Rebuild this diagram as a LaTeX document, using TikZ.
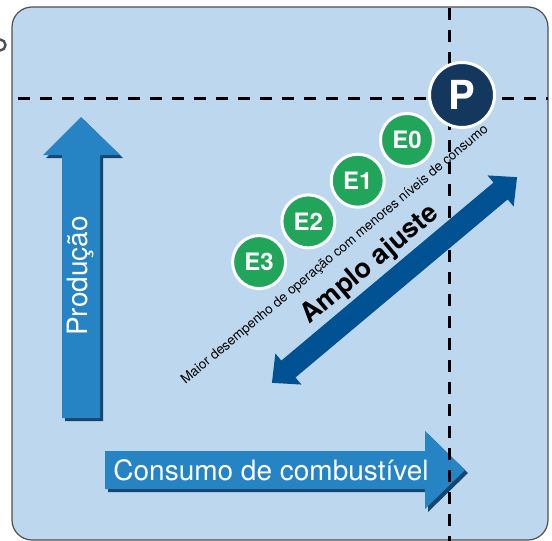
\documentclass[tikz,border=0pt]{standalone}
\usepackage{fontspec}
\setmainfont{TeX Gyre Heros}
\usetikzlibrary{positioning}

\definecolor{panelblue}{RGB}{189,215,238}
\definecolor{arrowblue}{RGB}{38,131,196}
\definecolor{shadowblue}{RGB}{22,70,110}
\definecolor{rangeblue}{RGB}{0,82,147}
\definecolor{stagegreen}{RGB}{33,165,90}
\definecolor{pointnavy}{RGB}{20,55,94}
\definecolor{framegray}{RGB}{80,80,80}

\tikzset{
  stage/.style = {circle, fill=stagegreen, draw=white, line width=3pt,
                  minimum size=53pt, inner sep=0pt, text=white,
                  font=\fontsize{24}{24}\selectfont\bfseries},
  peak/.style = {stage, fill=pointnavy, minimum size=65pt,
                 font=\fontsize{40}{40}\selectfont\bfseries},
  guide/.style = {line width=3pt, dash pattern=on 12pt off 10pt},
  axislabel/.style = {text=white, inner sep=0pt,
                      font=\fontsize{28}{28}\selectfont}
}

\begin{document}
\begin{tikzpicture}[x=1pt, y=-1pt]
    \useasboundingbox (0,0) rectangle (552,541);
    % cut-off glyph at the left edge
    \draw[framegray, line width=2.4pt] (0,45) circle (5.5);
    % panel
    \draw[fill=panelblue, draw=framegray, line width=1.2pt, rounded corners=20pt]
        (12,7) rectangle (548,540);

    % axis arrows with shadow
    \foreach \dx/\col in {3/shadowblue, 0/arrowblue} {
        \fill[\col, shift={(\dx,\dx)}] (62,418) -- (62,155) -- (43,155) -- (81,117)
            -- (120,155) -- (100,155) -- (100,418) -- cycle;
        \fill[\col, shift={(\dx,\dx)}] (105,451) -- (425,451) -- (425,431) -- (465,470)
            -- (425,509) -- (425,489) -- (105,489) -- cycle;
    }
    \node[axislabel, rotate=90] (prod) at (81,276) {Produção};
    \node[axislabel] (cons) at (271,470) {Consumo de combustível};

    % guide lines
    \draw[guide] (18,98) -- (548,98);
    \draw[guide] (449,8) -- (449,541);

    % double arrow
    \begin{scope}[shift={(394.5,280)}, rotate=40]
        \fill[rangeblue] (-160,0) -- (-138.5,20.3) -- (-138.5,11) -- (138.5,11)
            -- (138.5,20.3) -- (160,0) -- (138.5,-20.3) -- (138.5,-11)
            -- (-138.5,-11) -- (-138.5,-20.3) -- cycle;
    \end{scope}
    \node[rotate=40, inner sep=0pt, font=\fontsize{27}{27}\selectfont\bfseries]
        (range) at (370,265) {Amplo ajuste};
    \node[rotate=40, inner sep=0pt, font=\fontsize{13.5}{13.5}\selectfont]
        (note) at (335,255) {Maior desempenho de operação com menores níveis de consumo};

    % stages
    \node[peak] (p) at (462,95) {P};
    \foreach \i in {0,...,3}
        \node[stage] (e\i) at ({407-49.3*\i},{140+40.7*\i}) {E\i};
\end{tikzpicture}
\end{document}
